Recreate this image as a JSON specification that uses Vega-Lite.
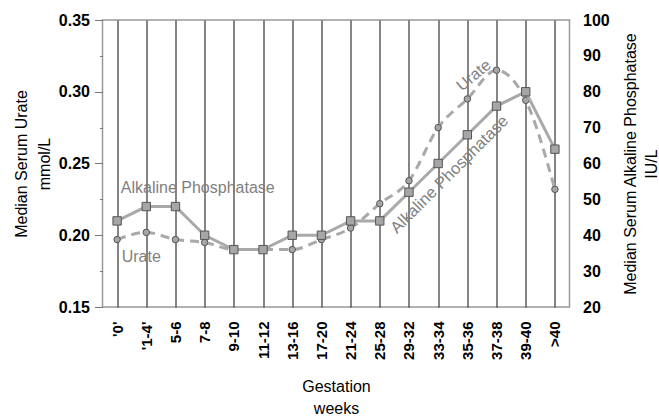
{
  "$schema": "https://vega.github.io/schema/vega-lite/v6.json",
  "width": 467,
  "height": 287,
  "autosize": "none",
  "padding": {"left": 102.5, "top": 20, "right": 89.5, "bottom": 109},
  "config": {
    "font": "Liberation Sans",
    "view": {"stroke": "#999999", "strokeWidth": 1.5}
  },
  "data": {"values": [
    {"week": "'0'", "urate": 0.197, "alp": 44},
    {"week": "'1-4'", "urate": 0.202, "alp": 48},
    {"week": "5-6", "urate": 0.197, "alp": 48},
    {"week": "7-8", "urate": 0.195, "alp": 40},
    {"week": "9-10", "urate": 0.190, "alp": 36},
    {"week": "11-12", "urate": 0.190, "alp": 36},
    {"week": "13-16", "urate": 0.190, "alp": 40},
    {"week": "17-20", "urate": 0.197, "alp": 40},
    {"week": "21-24", "urate": 0.205, "alp": 44},
    {"week": "25-28", "urate": 0.222, "alp": 44},
    {"week": "29-32", "urate": 0.238, "alp": 52},
    {"week": "33-34", "urate": 0.275, "alp": 60},
    {"week": "35-36", "urate": 0.295, "alp": 68},
    {"week": "37-38", "urate": 0.315, "alp": 76},
    {"week": "39-40", "urate": 0.294, "alp": 80},
    {"week": ">40", "urate": 0.232, "alp": 64}
  ]},
  "encoding": {
    "x": {
      "field": "week",
      "type": "ordinal",
      "scale": {"type": "point", "padding": 0.5, "domain": ["'0'", "'1-4'", "5-6", "7-8", "9-10", "11-12", "13-16", "17-20", "21-24", "25-28", "29-32", "33-34", "35-36", "37-38", "39-40", ">40"]},
      "axis": {
        "labelAngle": 270,
        "labelFontSize": 15,
        "labelFontWeight": "bold",
        "labelColor": "#000000",
        "labelPadding": 14,
        "ticks": false,
        "domain": false,
        "grid": true,
        "gridColor": "#333333",
        "gridWidth": 1.2,
        "gridOpacity": 1,
        "title": ["Gestation", "weeks"],
        "titleFontSize": 16,
        "titleFontWeight": "normal",
        "titleColor": "#000000",
        "titleLineHeight": 22,
        "titlePadding": 19
      }
    }
  },
  "layer": [
    {
      "encoding": {
        "y": {
          "field": "urate",
          "type": "quantitative",
          "scale": {"domain": [0.15, 0.35], "zero": false, "nice": false},
          "axis": {
            "orient": "left",
            "values": [0.15, 0.175, 0.2, 0.225, 0.25, 0.275, 0.3, 0.325, 0.35],
            "labelExpr": "round(datum.value*1000)%50==0 ? format(datum.value,'.2f') : ''",
            "tickSize": {"condition": {"test": "round(datum.value*1000)%50!=0", "value": 3}, "value": 8},
            "tickColor": "#777777",
            "domain": false,
            "grid": false,
            "labelFontSize": 16,
            "labelFontWeight": "bold",
            "labelColor": "#000000",
            "labelPadding": 5,
            "title": ["Median Serum Urate", "mmol/L"],
            "titleFontSize": 16,
            "titleFontWeight": "normal",
            "titleColor": "#000000",
            "titleLineHeight": 23,
            "titlePadding": 6
          }
        }
      },
      "layer": [
        {
          "mark": {"type": "line", "interpolate": "monotone", "strokeDash": [9, 6], "strokeWidth": 3, "color": "#a9a9a9"}
        },
        {
          "mark": {"type": "point", "shape": "circle", "filled": true, "size": 42, "fill": "#a6a6a6", "stroke": "#555555", "strokeWidth": 1, "opacity": 1}
        },
        {
          "data": {"values": [{"week": "'0'", "urate": 0.2297, "label": "Alkaline Phosphatase"}]},
          "mark": {"type": "text", "align": "left", "baseline": "alphabetic", "dx": 3.7, "fontSize": 16, "color": "#7f7f7f"},
          "encoding": {"text": {"field": "label"}}
        },
        {
          "data": {"values": [{"week": "'0'", "urate": 0.1816, "label": "Urate"}]},
          "mark": {"type": "text", "align": "left", "baseline": "alphabetic", "dx": 4.6, "fontSize": 16, "color": "#7f7f7f"},
          "encoding": {"text": {"field": "label"}}
        },
        {
          "data": {"values": [{"week": "35-36", "urate": 0.303, "label": "Urate"}]},
          "mark": {"type": "text", "align": "center", "baseline": "alphabetic", "angle": -40, "dx": 12.7, "fontSize": 16, "color": "#7f7f7f"},
          "encoding": {"text": {"field": "label"}}
        },
        {
          "data": {"values": [{"week": "33-34", "urate": 0.2294, "label": "Alkaline Phosphatase"}]},
          "mark": {"type": "text", "align": "center", "baseline": "alphabetic", "angle": -45, "dx": 21.2, "fontSize": 16.5, "color": "#7f7f7f"},
          "encoding": {"text": {"field": "label"}}
        }
      ]
    },
    {
      "encoding": {
        "y": {
          "field": "alp",
          "type": "quantitative",
          "scale": {"domain": [20, 100], "zero": false, "nice": false},
          "axis": {
            "orient": "right",
            "values": [20, 30, 40, 50, 60, 70, 80, 90, 100],
            "ticks": false,
            "domain": false,
            "grid": false,
            "labelFontSize": 16,
            "labelFontWeight": "bold",
            "labelColor": "#000000",
            "labelPadding": 13,
            "title": ["Median Serum Alkaline Phosphatase", "IU/L"],
            "titleAngle": 270,
            "titleBaseline": "top",
            "titleFontSize": 16,
            "titleFontWeight": "normal",
            "titleColor": "#000000",
            "titleLineHeight": 21,
            "titlePadding": -8
          }
        }
      },
      "layer": [
        {
          "mark": {"type": "line", "strokeWidth": 3, "color": "#a9a9a9"}
        },
        {
          "mark": {"type": "point", "shape": "square", "filled": true, "size": 70, "fill": "#a6a6a6", "stroke": "#555555", "strokeWidth": 1, "opacity": 1}
        }
      ]
    }
  ],
  "resolve": {"scale": {"y": "independent"}}
}
